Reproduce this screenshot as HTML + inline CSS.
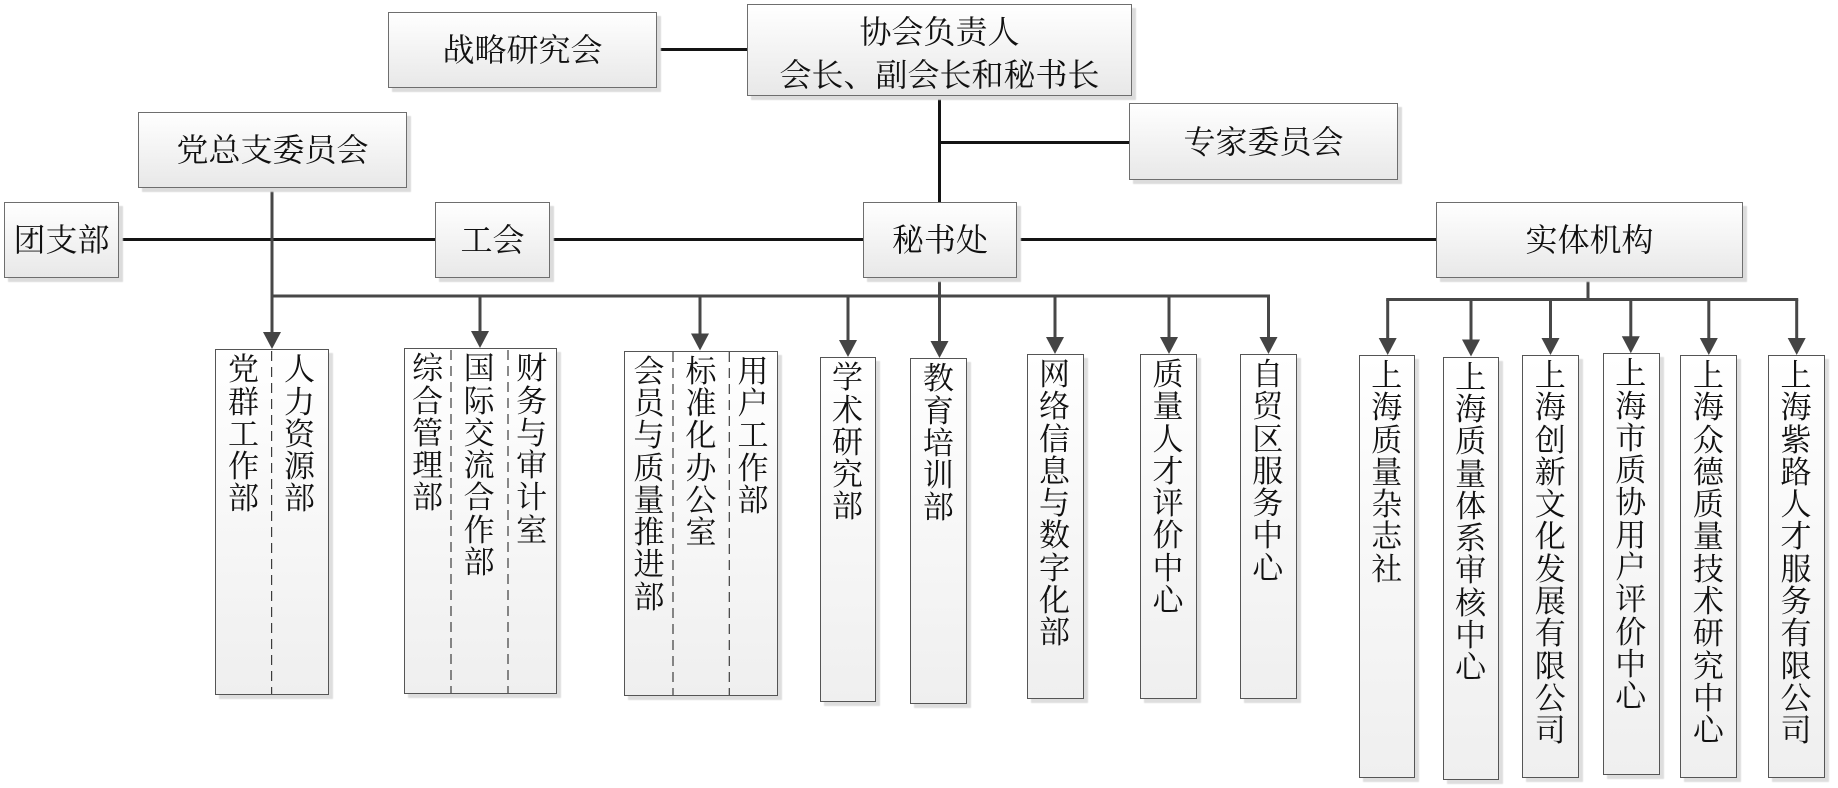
<!DOCTYPE html>
<html>
<head>
<meta charset="utf-8">
<style>
html,body{margin:0;padding:0;background:#fff;}
#root{position:relative;width:1838px;height:788px;overflow:hidden;background:#fff;
  font-family:"Liberation Serif","Noto Serif CJK SC",serif;color:#111;}
.b{position:absolute;box-sizing:border-box;border:1.5px solid #6e6e6e;
  background:linear-gradient(#ffffff,#e8e8e8);box-shadow:4px 4px 1px #dcdcdc;z-index:2;}
.h{display:flex;align-items:center;justify-content:center;font-size:32px;line-height:34px;white-space:nowrap;}
.v{position:absolute;box-sizing:border-box;border:1.5px solid #555;
  background:linear-gradient(#ffffff,#efefef);box-shadow:4px 4px 1px #dedede;z-index:2;}
.col{position:absolute;top:4px;text-align:center;font-size:31px;line-height:32.3px;
  word-break:break-all;white-space:normal;}
.col span{display:block;}
svg{position:absolute;left:0;top:0;}
</style>
</head>
<body>
<div id="root">
<svg width="1838" height="788" style="z-index:1">
  <g stroke="#141414" stroke-width="3" fill="none">
    <line x1="657" y1="49.5" x2="747" y2="49.5"/>
    <line x1="939.5" y1="96" x2="939.5" y2="202"/>
    <line x1="939.5" y1="142.5" x2="1129" y2="142.5"/>
    <line x1="119" y1="239.5" x2="1436" y2="239.5"/>
  </g>
  <g stroke="#474747" stroke-width="3" fill="none">
    <line x1="272" y1="188" x2="272" y2="334"/>
    <line x1="939.5" y1="278" x2="939.5" y2="343"/>
    <line x1="270.5" y1="296" x2="1270" y2="296"/>
    <line x1="1588" y1="278" x2="1588" y2="299.5"/>
    <line x1="1386.2" y1="299.5" x2="1798.2" y2="299.5"/>
    <line x1="480" y1="296" x2="480" y2="333"/>
    <line x1="700" y1="296" x2="700" y2="335"/>
    <line x1="848" y1="296" x2="848" y2="342"/>
    <line x1="1055" y1="296" x2="1055" y2="339"/>
    <line x1="1169" y1="296" x2="1169" y2="339"/>
    <line x1="1268.5" y1="296" x2="1268.5" y2="339"/>
    <line x1="1387.7" y1="299.5" x2="1387.7" y2="340"/>
    <line x1="1471" y1="299.5" x2="1471" y2="341"/>
    <line x1="1550.5" y1="299.5" x2="1550.5" y2="340"/>
    <line x1="1630.8" y1="299.5" x2="1630.8" y2="338"/>
    <line x1="1708.8" y1="299.5" x2="1708.8" y2="340"/>
    <line x1="1796.7" y1="299.5" x2="1796.7" y2="340"/>
  </g>
</svg>

<!-- top level boxes -->
<div class="b h" style="left:388px;top:12px;width:269px;height:76px;">战略研究会</div>
<div class="b" style="left:747px;top:4px;width:385px;height:92px;">
  <div style="position:absolute;left:0;right:0;top:6px;text-align:center;font-size:32px;line-height:43px;white-space:nowrap;">协会负责人<br>会长、副会长和秘书长</div>
</div>
<div class="b h" style="left:1129px;top:103px;width:269px;height:77px;">专家委员会</div>
<div class="b h" style="left:138px;top:112px;width:269px;height:76px;">党总支委员会</div>
<div class="b h" style="left:4px;top:202px;width:115px;height:76px;">团支部</div>
<div class="b h" style="left:435px;top:202px;width:115px;height:76px;">工会</div>
<div class="b h" style="left:863px;top:202px;width:154px;height:76px;">秘书处</div>
<div class="b h" style="left:1436px;top:202px;width:307px;height:76px;">实体机构</div>

<!-- grouped vertical boxes -->
<div class="v" style="left:214.5px;top:349.3px;width:114px;height:346px;">
  <div class="col" style="left:0;width:56px;">党群工作部</div>
  <div class="col" style="left:56px;width:56px;">人力资源部</div>
</div>
<div class="v" style="left:403.6px;top:348.3px;width:153px;height:346px;">
  <div class="col" style="left:0;width:46px;">综合管理部</div>
  <div class="col" style="left:46px;width:57px;">国际交流合作部</div>
  <div class="col" style="left:103px;width:48px;">财务与审计室</div>
</div>
<div class="v" style="left:624px;top:350.7px;width:154px;height:345px;">
  <div class="col" style="left:0;width:48px;">会员与质量推进部</div>
  <div class="col" style="left:48px;width:56px;">标准化办公室</div>
  <div class="col" style="left:104px;width:48px;">用户工作部</div>
</div>

<!-- single vertical boxes -->
<div class="v" style="left:820px;top:357.3px;width:56.4px;height:345px;"><div class="col" style="left:0;width:53px;">学术研究部</div></div>
<div class="v" style="left:910.4px;top:358.3px;width:57px;height:346px;"><div class="col" style="left:0;width:54px;">教育培训部</div></div>
<div class="v" style="left:1026.5px;top:354px;width:57px;height:345px;"><div class="col" style="left:0;width:54px;">网络信息与数字化部</div></div>
<div class="v" style="left:1140px;top:354px;width:57.3px;height:345px;"><div class="col" style="left:0;width:54px;">质量人才评价中心</div></div>
<div class="v" style="left:1239.8px;top:354px;width:57px;height:345px;"><div class="col" style="left:0;width:54px;">自贸区服务中心</div></div>

<div class="v" style="left:1358.7px;top:355px;width:56.8px;height:423px;"><div class="col" style="left:0;width:54px;">上海质量杂志社</div></div>
<div class="v" style="left:1442.6px;top:356.7px;width:56.8px;height:423px;"><div class="col" style="left:0;width:54px;">上海质量体系审核中心</div></div>
<div class="v" style="left:1522.2px;top:355px;width:56.8px;height:423px;"><div class="col" style="left:0;width:54px;">上海创新文化发展有限公司</div></div>
<div class="v" style="left:1602.8px;top:353.3px;width:56.8px;height:422px;"><div class="col" style="left:0;width:54px;">上海市质协用户评价中心</div></div>
<div class="v" style="left:1680.4px;top:355px;width:56.5px;height:423px;"><div class="col" style="left:0;width:54px;">上海众德质量技术研究中心</div></div>
<div class="v" style="left:1768px;top:355px;width:56.8px;height:423px;"><div class="col" style="left:0;width:54px;">上海紫路人才服务有限公司</div></div>

<svg width="1838" height="788" style="z-index:3">
  <g stroke="#3c3c3c" stroke-width="1.2" stroke-dasharray="10 6" fill="none">
    <line x1="271.6" y1="351" x2="271.6" y2="694"/>
    <line x1="451" y1="350" x2="451" y2="693"/>
    <line x1="508" y1="350" x2="508" y2="693"/>
    <line x1="673" y1="352" x2="673" y2="695"/>
    <line x1="729.3" y1="352" x2="729.3" y2="695"/>
  </g>
  <g fill="#444">
    <polygon points="263,332 281,332 272,349"/>
    <polygon points="471,331 489,331 480,348"/>
    <polygon points="691,333.5 709,333.5 700,350.5"/>
    <polygon points="839,340 857,340 848,357"/>
    <polygon points="930.5,341 948.5,341 939.5,358"/>
    <polygon points="1046,337 1064,337 1055,354"/>
    <polygon points="1160,337 1178,337 1169,354"/>
    <polygon points="1259.5,337 1277.5,337 1268.5,354"/>
    <polygon points="1378.7,338 1396.7,338 1387.7,355"/>
    <polygon points="1462,339.5 1480,339.5 1471,356.5"/>
    <polygon points="1541.5,338 1559.5,338 1550.5,355"/>
    <polygon points="1621.8,336.3 1639.8,336.3 1630.8,353.3"/>
    <polygon points="1699.8,338 1717.8,338 1708.8,355"/>
    <polygon points="1787.7,338 1805.7,338 1796.7,355"/>
  </g>
</svg>
</div>
</body>
</html>
